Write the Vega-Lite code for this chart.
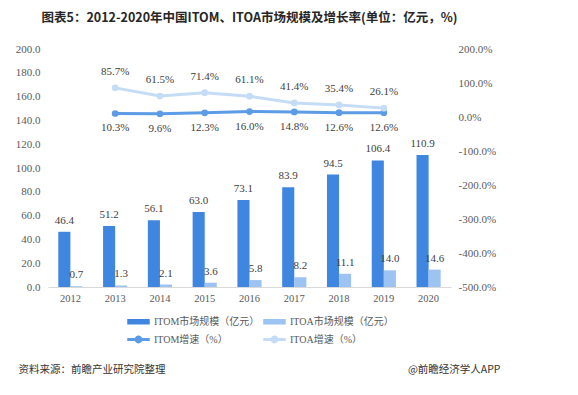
{
  "$schema": "https://vega.github.io/schema/vega-lite/v6.json",
  "width": 403,
  "height": 238,
  "padding": {"left": 15, "top": 11, "right": 5, "bottom": 5},
  "background": "white",
  "config": {
    "view": {"stroke": null},
    "font": "Liberation Serif, Noto Sans CJK SC",
    "axis": {"labelFont": "Liberation Serif, Noto Sans CJK SC", "labelColor": "#595959", "labelFontSize": 11, "grid": false, "ticks": false}
  },
  "title": {
    "text": "图表5：2012-2020年中国ITOM、ITOA市场规模及增长率(单位：亿元，%)",
    "font": "Noto Sans CJK SC",
    "fontSize": 12.5,
    "fontWeight": "bold",
    "color": "#262626",
    "anchor": "middle",
    "frame": "group",
    "offset": 19
  },
  "data": {
    "values": [
      {"year": "2012", "series": "ITOM市场规模（亿元）", "value": 46.4},
      {"year": "2013", "series": "ITOM市场规模（亿元）", "value": 51.2},
      {"year": "2014", "series": "ITOM市场规模（亿元）", "value": 56.1},
      {"year": "2015", "series": "ITOM市场规模（亿元）", "value": 63.0},
      {"year": "2016", "series": "ITOM市场规模（亿元）", "value": 73.1},
      {"year": "2017", "series": "ITOM市场规模（亿元）", "value": 83.9},
      {"year": "2018", "series": "ITOM市场规模（亿元）", "value": 94.5},
      {"year": "2019", "series": "ITOM市场规模（亿元）", "value": 106.4},
      {"year": "2020", "series": "ITOM市场规模（亿元）", "value": 110.9},
      {"year": "2012", "series": "ITOA市场规模（亿元）", "value": 0.7},
      {"year": "2013", "series": "ITOA市场规模（亿元）", "value": 1.3},
      {"year": "2014", "series": "ITOA市场规模（亿元）", "value": 2.1},
      {"year": "2015", "series": "ITOA市场规模（亿元）", "value": 3.6},
      {"year": "2016", "series": "ITOA市场规模（亿元）", "value": 5.8},
      {"year": "2017", "series": "ITOA市场规模（亿元）", "value": 8.2},
      {"year": "2018", "series": "ITOA市场规模（亿元）", "value": 11.1},
      {"year": "2019", "series": "ITOA市场规模（亿元）", "value": 14.0},
      {"year": "2020", "series": "ITOA市场规模（亿元）", "value": 14.6},
      {"year": "2013", "series": "ITOM增速（%）", "rate": 0.103},
      {"year": "2014", "series": "ITOM增速（%）", "rate": 0.096},
      {"year": "2015", "series": "ITOM增速（%）", "rate": 0.123},
      {"year": "2016", "series": "ITOM增速（%）", "rate": 0.160},
      {"year": "2017", "series": "ITOM增速（%）", "rate": 0.148},
      {"year": "2018", "series": "ITOM增速（%）", "rate": 0.126},
      {"year": "2019", "series": "ITOM增速（%）", "rate": 0.126},
      {"year": "2013", "series": "ITOA增速（%）", "rate": 0.857},
      {"year": "2014", "series": "ITOA增速（%）", "rate": 0.615},
      {"year": "2015", "series": "ITOA增速（%）", "rate": 0.714},
      {"year": "2016", "series": "ITOA增速（%）", "rate": 0.611},
      {"year": "2017", "series": "ITOA增速（%）", "rate": 0.414},
      {"year": "2018", "series": "ITOA增速（%）", "rate": 0.354},
      {"year": "2019", "series": "ITOA增速（%）", "rate": 0.261}
    ]
  },
  "encoding": {
    "x": {
      "field": "year",
      "type": "ordinal",
      "scale": {"paddingInner": 0.46, "paddingOuter": 0.23},
      "axis": {
        "title": "资料来源：前瞻产业研究院整理",
        "titleFont": "Noto Sans CJK SC",
        "titleFontSize": 10.5,
        "titleFontWeight": "normal",
        "titleColor": "#333333",
        "titleAnchor": "start",
        "titleAlign": "left",
        "titleBaseline": "middle",
        "titleX": -30,
        "titleY": 82,
        "labelAngle": 0,
        "labelPadding": 6,
        "domainColor": "#D9D9D9",
        "labelFontSize": 10.5
      }
    },
    "color": {
      "field": "series",
      "type": "nominal",
      "scale": {
        "domain": ["ITOM市场规模（亿元）", "ITOM增速（%）", "ITOA市场规模（亿元）", "ITOA增速（%）"],
        "range": ["#3F86E0", "#5C9BE6", "#9CC3F2", "#C4DCF6"]
      },
      "legend": {
        "title": null,
        "orient": "none",
        "legendX": 79,
        "legendY": 261,
        "columns": 2,
        "columnPadding": 1,
        "rowPadding": 1,
        "symbolSize": 441,
        "labelFont": "Liberation Serif, Noto Sans CJK SC",
        "labelFontSize": 10,
        "labelColor": "#595959",
        "labelOffset": 4,
        "encode": {
          "symbols": {
            "update": {
              "fill": {"scale": "color", "field": "value"},
              "stroke": {"value": "transparent"},
              "opacity": {"value": 1},
              "shape": {"signal": "indexof(datum.value, '增速') >= 0 ? 'M-1,-0.07H1V0.07H-1Z M-0.3,0A0.3,0.3 0 1,1 0.3,0A0.3,0.3 0 1,1 -0.3,0Z' : 'M-1,-0.19H1V0.19H-1Z'"}
            }
          }
        }
      }
    }
  },
  "layer": [
    {
      "transform": [{"filter": "isValid(datum.value)"}],
      "encoding": {
        "xOffset": {"field": "series", "type": "nominal", "sort": ["ITOM市场规模（亿元）", "ITOA市场规模（亿元）"], "scale": {"paddingInner": 0, "paddingOuter": 0}},
        "y": {
          "field": "value",
          "type": "quantitative",
          "scale": {"domain": [0, 200]},
          "axis": {
            "values": [0, 20, 40, 60, 80, 100, 120, 140, 160, 180, 200],
            "format": ".1f",
            "domain": false,
            "labelPadding": 8,
            "title": "@前瞻经济学人APP",
            "titleFont": "Noto Sans CJK SC",
            "titleFontSize": 10.5,
            "titleFontWeight": "normal",
            "titleColor": "#333333",
            "titleAngle": 0,
            "titleAlign": "right",
            "titleBaseline": "middle",
            "titleX": 452,
            "titleY": 320
          }
        }
      },
      "layer": [
        {"mark": {"type": "bar"}},
        {
          "mark": {"type": "text", "baseline": "bottom", "dy": -6, "fontSize": 11, "color": "#404040", "font": "Liberation Serif"},
          "encoding": {"text": {"field": "value", "type": "quantitative", "format": ".1f"}, "color": {"value": "#404040"}}
        }
      ]
    },
    {
      "transform": [{"filter": "isValid(datum.rate)"}],
      "encoding": {
        "y": {
          "field": "rate",
          "type": "quantitative",
          "scale": {"domain": [-5, 2]},
          "axis": {
            "orient": "right",
            "values": [-5, -4, -3, -2, -1, 0, 1, 2],
            "labelExpr": "replace(format(datum.value, '.1%'), '−', '-')",
            "domain": false,
            "labelPadding": 7,
            "title": null
          }
        }
      },
      "layer": [
        {"mark": {"type": "line", "strokeWidth": 3, "point": {"size": 45, "filled": true}}},
        {
          "transform": [{"filter": "datum.series == 'ITOA增速（%）'"}],
          "mark": {"type": "text", "baseline": "middle", "dy": -16, "fontSize": 11, "font": "Liberation Serif"},
          "encoding": {"text": {"field": "rate", "type": "quantitative", "format": ".1%"}, "color": {"value": "#404040"}}
        },
        {
          "transform": [{"filter": "datum.series == 'ITOM增速（%）'"}],
          "mark": {"type": "text", "baseline": "middle", "dy": 15, "fontSize": 11, "font": "Liberation Serif"},
          "encoding": {"text": {"field": "rate", "type": "quantitative", "format": ".1%"}, "color": {"value": "#404040"}}
        }
      ]
    }
  ],
  "resolve": {"scale": {"y": "independent"}}
}
